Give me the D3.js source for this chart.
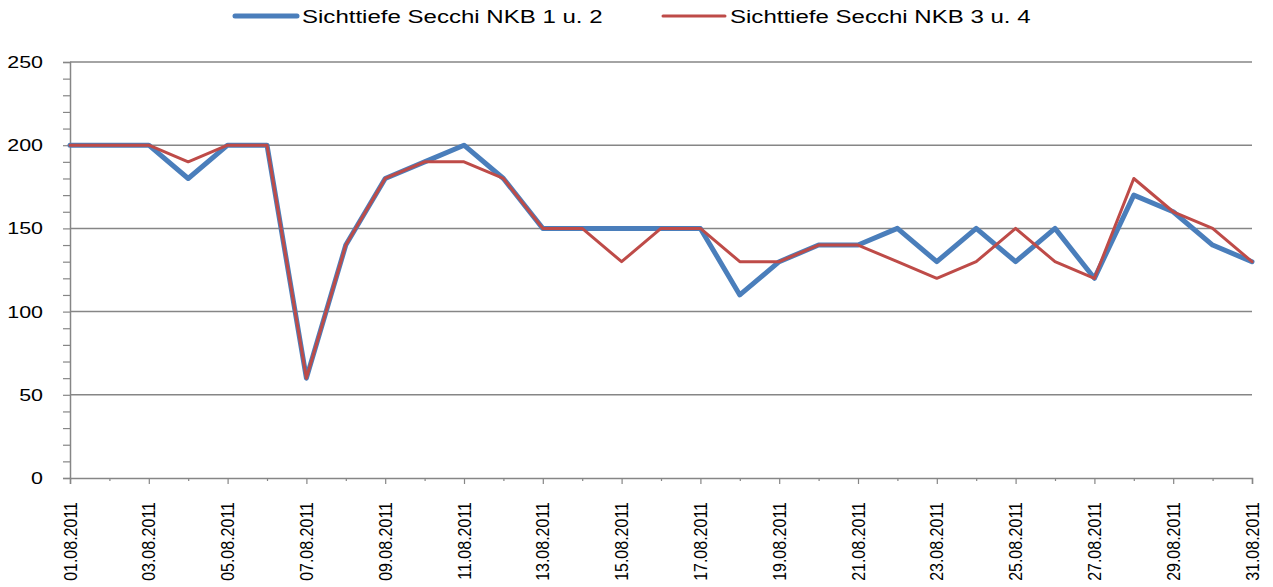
<!DOCTYPE html>
<html>
<head>
<meta charset="utf-8">
<script src="https://cdn.jsdelivr.net/npm/d3@7"></script>
<style>
  body { margin: 0; background: #fff; }
  text { font-family: "Liberation Sans", Arial, sans-serif; fill: #000; }
</style>
</head>
<body>
<div id="chart"></div>
<script>
const w = 1273;
const h = 587;

// data
const dates = ["01.08.2011","02.08.2011","03.08.2011","04.08.2011","05.08.2011","06.08.2011","07.08.2011","08.08.2011",
  "09.08.2011","10.08.2011","11.08.2011","12.08.2011","13.08.2011","14.08.2011","15.08.2011","16.08.2011",
  "17.08.2011","18.08.2011","19.08.2011","20.08.2011","21.08.2011","22.08.2011","23.08.2011","24.08.2011",
  "25.08.2011","26.08.2011","27.08.2011","28.08.2011","29.08.2011","30.08.2011","31.08.2011"];
const nkb12 = [200,200,200,180,200,200,60,140,180,190,200,180,150,150,150,150,150,110,130,140,140,150,130,150,130,150,120,170,160,140,130];
const nkb34 = [200,200,200,190,200,200,60,140,180,190,190,180,150,150,130,150,150,130,130,140,140,130,120,130,150,130,120,180,160,150,130];
const yTicks = [0,50,100,150,200,250];
const seriesNames = ["Sichttiefe Secchi NKB 1 u. 2","Sichttiefe Secchi NKB 3 u. 4"];
const colors = ["#4a7ebb","#be4b48"];
const widths = [5,3];

const mLeft = 70, mRight = 1252, mTop = 62, mBottom = 478;
const sx = 1.3; // the text in the picture is drawn wider than it is high

var svg = d3.select("#chart").append("svg")
  .attr("width", w).attr("height", h);

var x = d3.scalePoint().domain(dates).range([mLeft, mRight]);
var y = d3.scaleLinear().domain([0,250]).range([mBottom, mTop]);

// gridlines
svg.append("g").selectAll("line")
  .data(yTicks.filter(d => d > 0))
  .enter().append("line")
  .attr("x1", mLeft).attr("x2", mRight)
  .attr("y1", d => y(d)).attr("y2", d => y(d))
  .attr("stroke", "#868686").attr("stroke-width", 1.5);

// y axis
var yAxis = d3.axisLeft(y).tickValues(d3.range(0, 251, 10)).tickSize(7).tickFormat("");
var gy = svg.append("g").attr("transform", "translate(" + mLeft + ",0)").call(yAxis);
gy.select(".domain").attr("stroke", "#868686").attr("stroke-width", 1.5);
gy.selectAll(".tick line").attr("stroke", "#868686").attr("stroke-width", 1.2);

svg.append("g").selectAll("text")
  .data(yTicks)
  .enter().append("text")
  .attr("transform", d => "translate(43," + (y(d) + 6) + ") scale(" + sx + ",1)")
  .attr("text-anchor", "end")
  .style("font-size", "16.5px")
  .text(d => d);

// x axis
var xAxis = d3.axisBottom(x).tickSize(6).tickFormat("");
var gx = svg.append("g").attr("transform", "translate(0," + mBottom + ")").call(xAxis);
gx.select(".domain").attr("stroke", "#868686").attr("stroke-width", 1.5);
gx.selectAll(".tick line")
  .attr("stroke", "#868686").attr("stroke-width", 1.2)
  .attr("y2", (d, i) => i % 2 == 0 ? 6 : 3);

svg.append("g").selectAll("text")
  .data(dates.filter((d, i) => i % 2 == 0))
  .enter().append("text")
  .attr("transform", d => "translate(" + (x(d) + 6.5) + ",502) scale(1.15,1) rotate(-90)")
  .attr("text-anchor", "end")
  .style("font-size", "16px")
  .text(d => d);

// lines
var line = d3.line().x((d, i) => x(dates[i])).y(d => y(d));
[nkb12, nkb34].forEach(function (s, k) {
  svg.append("path")
    .datum(s)
    .attr("d", line)
    .attr("fill", "none")
    .attr("stroke", colors[k])
    .attr("stroke-width", widths[k])
    .attr("stroke-linejoin", "round")
    .attr("stroke-linecap", "round");
});

// legend
var legendX = [235, 663];
var legend = svg.append("g").selectAll("g")
  .data(seriesNames)
  .enter().append("g")
  .attr("transform", (d, i) => "translate(" + legendX[i] + ",16)");
legend.append("line")
  .attr("x1", 0).attr("x2", 62).attr("y1", 0).attr("y2", 0)
  .attr("stroke", (d, i) => colors[i])
  .attr("stroke-width", (d, i) => widths[i])
  .attr("stroke-linecap", "round");
legend.append("text")
  .attr("transform", "translate(67,7) scale(" + sx + ",1)")
  .style("font-size", "18.5px")
  .text(d => d);
</script>
</body>
</html>
